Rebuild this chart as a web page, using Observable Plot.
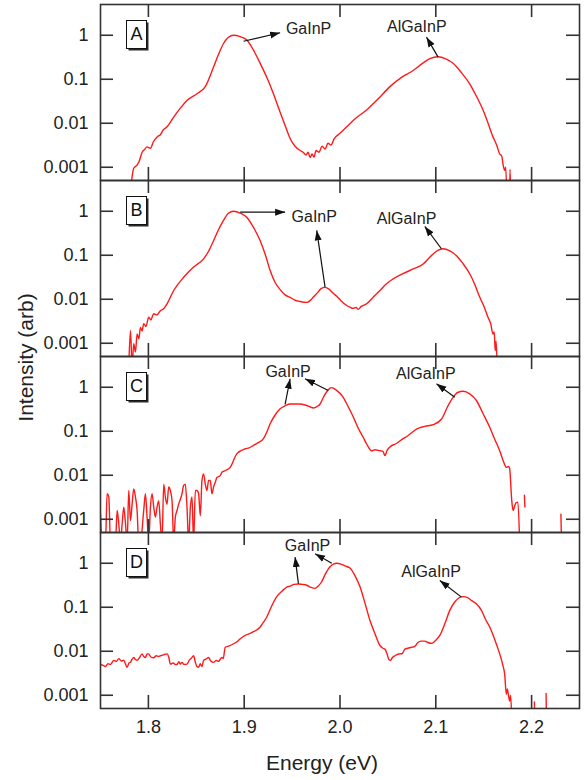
<!DOCTYPE html>
<html><head><meta charset="utf-8">
<script src="https://cdn.jsdelivr.net/npm/d3@7"></script>
<script src="https://cdn.jsdelivr.net/npm/@observablehq/plot@0.6"></script>
<style>body{margin:0;background:#fff;}</style>
</head><body><div id="chart"></div>
<script>
const panels = ["A", "B", "C", "D"];
const xTicks = [1.8, 1.9, 2.0, 2.1, 2.2];
const yTicks = [0.001, 0.01, 0.1, 1];
const xTitle = "Energy (eV)";
const yTitle = "Intensity (arb)";

// [energy (eV), intensity]; null = gap in the trace
const specA = [
  [1.7813,0.0003],[1.7847,0.00095],[1.7882,0.00112],[1.7906,0.0014],[1.7934,0.0022],[1.7958,0.0025],
  [1.7986,0.0029],[1.8021,0.0027],[1.8052,0.0038],[1.8091,0.0049],[1.8125,0.0055],[1.8156,0.0071],
  [1.8195,0.0083],[1.8264,0.0138],[1.8333,0.022],[1.8403,0.033],[1.8507,0.047],[1.8594,0.068],
  [1.868,0.19],[1.8729,0.355],[1.8784,0.65],[1.8833,0.89],[1.8889,1.0],[1.8958,0.93],[1.9028,0.78],
  [1.9094,0.47],[1.9167,0.23],[1.924,0.105],[1.9305,0.047],[1.9375,0.0178],[1.9427,0.0089],
  [1.9479,0.0045],[1.9531,0.003],[1.9583,0.0024],[1.9615,0.0022],[1.9646,0.0019],[1.9667,0.0022],
  [1.9688,0.00166],[1.9708,0.002],[1.9729,0.0017],[1.975,0.0024],[1.9781,0.0022],[1.9813,0.003],
  [1.9844,0.0026],[1.9875,0.0035],[1.9906,0.0032],[1.9938,0.0044],[2.0,0.0059],[2.007,0.0083],
  [2.0167,0.0132],[2.0278,0.02],[2.0396,0.0355],[2.0521,0.068],[2.0646,0.112],[2.0764,0.158],
  [2.0854,0.224],[2.0938,0.295],[2.1024,0.324],[2.1104,0.29],[2.118,0.23],[2.1271,0.138],
  [2.1354,0.079],[2.1427,0.04],[2.1493,0.02],[2.1542,0.0105],[2.1597,0.0049],[2.1635,0.0032],
  [2.1667,0.002],[2.1688,0.0018],[2.1701,0.0012],[2.1719,0.00085],[2.1729,0.001],[2.174,0.0003],
  [2.1755,null],[2.1771,0.0003],[2.1775,0.0009],[2.178,0.0003]
];
const specB = [
  [1.7795,0.0003],[1.7813,0.00195],[1.783,0.0003],[1.7847,0.00098],[1.7865,0.00063],[1.7882,0.00162],
  [1.79,0.00126],[1.7917,0.0023],[1.7934,0.0019],[1.7951,0.0028],[1.7974,0.0024],[1.8003,0.0039],
  [1.8026,0.0034],[1.8055,0.0047],[1.8089,0.0044],[1.8125,0.0055],[1.8156,0.006],[1.8195,0.0079],
  [1.8264,0.0158],[1.8368,0.0316],[1.8472,0.054],[1.8576,0.083],[1.8625,0.12],[1.868,0.214],
  [1.8729,0.37],[1.8784,0.62],[1.8833,0.89],[1.8889,1.0],[1.8958,0.91],[1.9028,0.72],[1.9094,0.44],
  [1.9167,0.214],[1.9219,0.105],[1.9271,0.045],[1.9323,0.024],[1.9375,0.0166],[1.9427,0.0126],
  [1.9479,0.011],[1.9531,0.0095],[1.9583,0.0089],[1.9653,0.0085],[1.9688,0.0093],[1.9722,0.0112],
  [1.9771,0.0145],[1.9802,0.0174],[1.9844,0.0186],[1.9885,0.017],[1.9927,0.0138],[1.9966,0.0117],
  [2.001,0.0093],[2.007,0.0072],[2.0104,0.0066],[2.0135,0.0062],[2.0167,0.0065],[2.0191,0.0059],
  [2.0219,0.0068],[2.0278,0.0079],[2.0344,0.011],[2.0417,0.0158],[2.0479,0.022],[2.0555,0.029],
  [2.0656,0.038],[2.0764,0.049],[2.0868,0.063],[2.0917,0.081],[2.0972,0.107],[2.1021,0.129],
  [2.1076,0.141],[2.1146,0.126],[2.1216,0.098],[2.1281,0.066],[2.1354,0.038],[2.1406,0.022],
  [2.1458,0.0112],[2.15,0.0071],[2.1545,0.0039],[2.1573,0.0028],[2.1597,0.00162],[2.161,0.0018],
  [2.162,0.00068],[2.163,0.00112],[2.164,0.0003]
];
const specC = [
  [1.75,0.00132],[1.7517,0.0003],[1.7552,0.0003],[1.7569,0.0038],[1.7587,0.0032],[1.7604,0.0003],
  [1.7656,0.0003],[1.7674,0.00158],[1.7691,0.00078],[1.7708,0.0003],[1.7726,0.00078],[1.7743,0.00187],
  [1.776,0.00085],[1.7778,0.0003],[1.7795,0.0045],[1.7813,0.00093],[1.783,0.0022],[1.7847,0.0049],
  [1.7865,0.0032],[1.7882,0.00158],[1.7899,0.0003],[1.7917,0.0003],[1.7951,0.00158],[1.7969,0.0038],
  [1.7986,0.00112],[1.8003,0.0003],[1.8021,0.00187],[1.8038,0.0038],[1.8056,0.00187],[1.8073,0.00112],
  [1.809,0.00187],[1.8108,0.0026],[1.8125,0.00078],[1.8142,0.0003],[1.816,0.0063],[1.8177,0.0032],
  [1.8194,0.0022],[1.8212,0.0054],[1.8229,0.0045],[1.8247,0.0026],[1.8264,0.0003],[1.8281,0.00112],
  [1.8299,0.00158],[1.8316,0.0022],[1.8351,0.0038],[1.8368,0.0059],[1.8385,0.0063],[1.8403,0.00187],
  [1.842,0.0003],[1.8438,0.00187],[1.8455,0.0032],[1.8472,0.0003],[1.849,0.0045],[1.8507,0.0045],
  [1.8524,0.0038],[1.8542,0.0012],[1.8559,0.0076],[1.8576,0.0107],[1.8594,0.0063],[1.8611,0.0045],
  [1.8628,0.0076],[1.8646,0.0076],[1.8663,0.0038],[1.868,0.0054],[1.8698,0.0069],[1.8715,0.0089],
  [1.875,0.0098],[1.8767,0.0117],[1.8802,0.0128],[1.8854,0.0151],[1.8924,0.031],[1.901,0.04],
  [1.9052,0.042],[1.9097,0.048],[1.9146,0.055],[1.9201,0.068],[1.924,0.1],[1.9271,0.148],
  [1.9323,0.234],[1.9375,0.324],[1.9427,0.38],[1.9479,0.417],[1.9583,0.417],[1.9646,0.39],
  [1.9722,0.339],[1.976,0.363],[1.9792,0.417],[1.9833,0.63],[1.9875,0.87],[1.9914,0.98],
  [1.9958,0.87],[2.0034,0.59],[2.0083,0.37],[2.0139,0.21],[2.0188,0.12],[2.0243,0.072],
  [2.0281,0.05],[2.033,0.036],[2.0365,0.038],[2.0417,0.036],[2.0448,0.035],[2.0469,0.028],
  [2.049,0.036],[2.0521,0.044],[2.0583,0.052],[2.0659,0.068],[2.0708,0.079],[2.0799,0.112],
  [2.0885,0.129],[2.0972,0.141],[2.106,0.19],[2.1125,0.37],[2.118,0.59],[2.1229,0.76],
  [2.1285,0.81],[2.1354,0.71],[2.1424,0.5],[2.149,0.26],[2.1563,0.123],[2.1615,0.066],
  [2.1667,0.036],[2.1708,0.02],[2.1736,0.0151],[2.176,0.0158],[2.1771,0.0141],[2.1792,0.0028],
  [2.1806,0.00158],[2.1823,0.002],[2.1839,0.0024],[2.1857,0.00245],[2.1875,0.0003],
  [2.19,null],[2.1925,0.0035],[2.193,0.0019],[2.21,null],[2.2306,0.0013],[2.2312,0.0003]
];
const specD = [
  [1.75,0.0051],[1.7531,0.0047],[1.7552,0.0045],[1.7578,0.0052],[1.7604,0.005],[1.7639,0.0062],
  [1.7667,0.0059],[1.7691,0.0068],[1.7719,0.006],[1.7743,0.0063],[1.776,0.0052],[1.7778,0.0043],
  [1.7797,0.0054],[1.7813,0.0056],[1.783,0.0066],[1.7847,0.0072],[1.7865,0.0065],[1.7882,0.0062],
  [1.7906,0.0071],[1.7934,0.0087],[1.7951,0.0076],[1.7969,0.0072],[1.7986,0.0087],[1.8003,0.0087],
  [1.8026,0.0074],[1.8055,0.0071],[1.8083,0.0079],[1.8104,0.0076],[1.8125,0.0079],[1.8156,0.0083],
  [1.8195,0.0087],[1.8214,0.0071],[1.8229,0.0051],[1.826,0.0054],[1.8281,0.005],[1.8299,0.005],
  [1.8318,0.0058],[1.8333,0.0051],[1.8351,0.0056],[1.837,0.005],[1.8403,0.0051],[1.8427,0.0063],
  [1.8448,0.0069],[1.8472,0.0079],[1.849,0.0056],[1.8507,0.0045],[1.8524,0.0043],[1.8542,0.0052],
  [1.8559,0.0045],[1.8576,0.0062],[1.8599,0.0066],[1.8628,0.0072],[1.8651,0.006],[1.868,0.0056],
  [1.8708,0.0062],[1.8734,0.0059],[1.875,0.0066],[1.8768,0.0072],[1.8781,0.0068],[1.8802,0.0123],
  [1.8844,0.0132],[1.8889,0.0148],[1.8938,0.0174],[1.8969,0.02],[1.901,0.0229],[1.9083,0.0269],
  [1.9167,0.0355],[1.9198,0.0447],[1.9236,0.06],[1.9281,0.1],[1.934,0.174],[1.9396,0.234],
  [1.9445,0.288],[1.9479,0.302],[1.9521,0.331],[1.9566,0.339],[1.9604,0.331],[1.9653,0.316],
  [1.9698,0.282],[1.974,0.269],[1.9771,0.302],[1.9809,0.38],[1.9844,0.55],[1.9896,0.83],
  [1.9932,0.955],[1.9966,1.0],[2.001,0.955],[2.0052,0.87],[2.0104,0.78],[2.0156,0.525],
  [2.0208,0.295],[2.026,0.126],[2.0313,0.05],[2.0365,0.025],[2.0417,0.0135],[2.0448,0.0117],
  [2.0469,0.0112],[2.049,0.0089],[2.051,0.0065],[2.0526,0.0062],[2.0547,0.0072],[2.0573,0.0079],
  [2.0599,0.0085],[2.0625,0.0087],[2.0651,0.0089],[2.0677,0.0112],[2.0708,0.0117],[2.0747,0.0123],
  [2.0781,0.0129],[2.0813,0.0158],[2.0844,0.017],[2.0885,0.017],[2.0917,0.0158],[2.0955,0.0151],
  [2.1,0.0178],[2.1042,0.0229],[2.1094,0.042],[2.1146,0.085],[2.1198,0.132],[2.124,0.162],
  [2.1284,0.174],[2.1333,0.166],[2.1375,0.141],[2.1424,0.12],[2.1479,0.083],[2.1521,0.052],
  [2.1563,0.0355],[2.1615,0.0186],[2.1667,0.0087],[2.1698,0.005],[2.1719,0.003],[2.1736,0.00105],
  [2.1747,0.0014],[2.176,0.00095],[2.1771,0.00074],[2.1781,0.001],[2.1792,0.0003],
  [2.19,null],[2.2029,0.0007],[2.2033,0.0003],[2.21,null],[2.2151,0.0011],[2.2155,0.0003]
];

const labelPanel = ["A","A","B","B","C","C","D","D"];
const labelText = ["GaInP","AlGaInP","GaInP","AlGaInP","GaInP","AlGaInP","GaInP","AlGaInP"];
const labelE = [1.9672, 2.0802, 1.9731, 2.0695, 1.9458, 2.0896, 1.9661, 2.0951];
const labelI = [1.41, 1.58, 0.74, 0.686, 2.29, 2.03, 2.54, 0.651];

const arrowPanel = ["A","A","B","B","B","C","C","C","D","D","D"];
const arrowE1 = [1.8993, 2.1024, 1.8958, 1.9844, 2.1059, 1.9427, 1.9878, 2.1198, 1.9566, 1.9914, 2.1268];
const arrowI1 = [0.73, 0.318, 0.955, 0.0188, 0.1406, 0.406, 0.846, 0.596, 0.342, 1.0, 0.17];
const arrowE2 = [1.9375, 2.0903, 1.9427, 1.9757, 2.0885, 1.9479, 1.9635, 2.1007, 1.9531, 1.974, 2.1042];
const arrowI2 = [1.14, 0.905, 0.955, 0.366, 0.452, 1.56, 1.56, 1.2, 1.38, 1.64, 0.407];

const rows = [];
[["A", specA], ["B", specB], ["C", specC], ["D", specD]].forEach(([p, s]) =>
  s.forEach(([e, i]) => rows.push({panel: p, e, i})));
const labels = labelText.map((t, k) => ({panel: labelPanel[k], text: t, e: labelE[k], i: labelI[k]}));
const arrows = arrowPanel.map((p, k) => ({panel: p, e1: arrowE1[k], i1: arrowI1[k], e2: arrowE2[k], i2: arrowI2[k]}));

function headMarker(color, context) {
  const ns = "http://www.w3.org/2000/svg";
  const doc = (context && context.document) || document;
  const m = doc.createElementNS(ns, "marker");
  m.setAttribute("viewBox", "-10 -4 10 8");
  m.setAttribute("markerWidth", "10");
  m.setAttribute("markerHeight", "8");
  m.setAttribute("markerUnits", "userSpaceOnUse");
  m.setAttribute("orient", "auto");
  m.setAttribute("refX", "0");
  m.setAttribute("refY", "0");
  const p = doc.createElementNS(ns, "path");
  p.setAttribute("d", "M-10,-3.5L0,0L-10,3.5Z");
  p.setAttribute("fill", color);
  p.setAttribute("stroke", "none");
  m.appendChild(p);
  return m;
}

const ink = "#333";
const W = 586 - 100 - 7;      // frame width
const PH = (780 - 4 - 72) / 4; // facet height
const TL = 13;                // inward tick length
function build(marker) {
  return Plot.plot({
    width: 586, height: 780,
    marginLeft: 100, marginRight: 7, marginTop: 4, marginBottom: 72,
    style: {fontFamily: "'Liberation Sans', Arial, sans-serif", fontSize: "18px", color: "#222", background: "#fff"},
    x: {domain: [1.75, 2.25], axis: null},
    y: {type: "log", domain: [5e-4, 5], axis: null},
    fy: {domain: panels, padding: 0, axis: null, label: null},
    marks: [
      Plot.line(rows, {x: "e", y: "i", fy: "panel", stroke: "#ff1a1a", strokeWidth: 1.4, curve: "monotone-x", clip: true}),
      Plot.frame({stroke: ink, strokeWidth: 1.6}),
      // inward ticks on all four sides of every panel
      Plot.tickY(yTicks, {y: d => d, stroke: ink, strokeWidth: 1.6, insetRight: W - TL}),
      Plot.tickY(yTicks, {y: d => d, stroke: ink, strokeWidth: 1.6, insetLeft: W - TL}),
      Plot.tickX(xTicks, {x: d => d, stroke: ink, strokeWidth: 1.6, insetBottom: PH - TL}),
      Plot.tickX(xTicks, {x: d => d, stroke: ink, strokeWidth: 1.6, insetTop: PH - TL}),
      // tick labels
      Plot.text(yTicks, {y: d => d, text: d => String(d), frameAnchor: "left", dx: -12, textAnchor: "end", lineAnchor: "middle", fontSize: 18, fill: "#222"}),
      Plot.text(xTicks, {x: d => d, fy: xTicks.map(() => "D"), text: d => d3.format(".1f")(d), frameAnchor: "bottom", dy: 12, lineAnchor: "top", textAnchor: "middle", fontSize: 18, fill: "#222"}),
      // panel letter boxes with drop shadow
      Plot.frame({fill: "#2a2a2a", stroke: null, insetLeft: 28, insetRight: W - 48, insetTop: 18, insetBottom: PH - 46}),
      Plot.frame({fill: "#fff", stroke: "#111", strokeWidth: 1, insetLeft: 26, insetRight: W - 46, insetTop: 16, insetBottom: PH - 44}),
      Plot.text(panels, {fy: d => d, text: d => d, frameAnchor: "top-left", dx: 36, dy: 30, textAnchor: "middle", lineAnchor: "middle", fontSize: 18, fill: "#111"}),
      // annotations
      Plot.link(arrows, {x1: "e1", y1: "i1", x2: "e2", y2: "i2", fy: "panel", stroke: "#111", strokeWidth: 1.2, markerEnd: marker}),
      Plot.text(labels, {x: "e", y: "i", fy: "panel", text: "text", fontSize: 16, fill: "#222", textAnchor: "middle", lineAnchor: "middle"}),
      // axis titles
      Plot.text([xTitle], {fy: ["D"], text: d => d, frameAnchor: "bottom", dx: -18, dy: 55, lineAnchor: "middle", textAnchor: "middle", fontSize: 21, fill: "#222"}),
      Plot.text([yTitle], {fy: ["C"], text: d => d, frameAnchor: "top-left", dx: -74, dy: 1, rotate: -90, lineAnchor: "middle", textAnchor: "middle", fontSize: 21, fill: "#222"})
    ]
  });
}
let chart;
try { chart = build(headMarker); } catch (err) { console.error(err); chart = build("arrow"); }
document.getElementById("chart").append(chart);
</script>
</body></html>
